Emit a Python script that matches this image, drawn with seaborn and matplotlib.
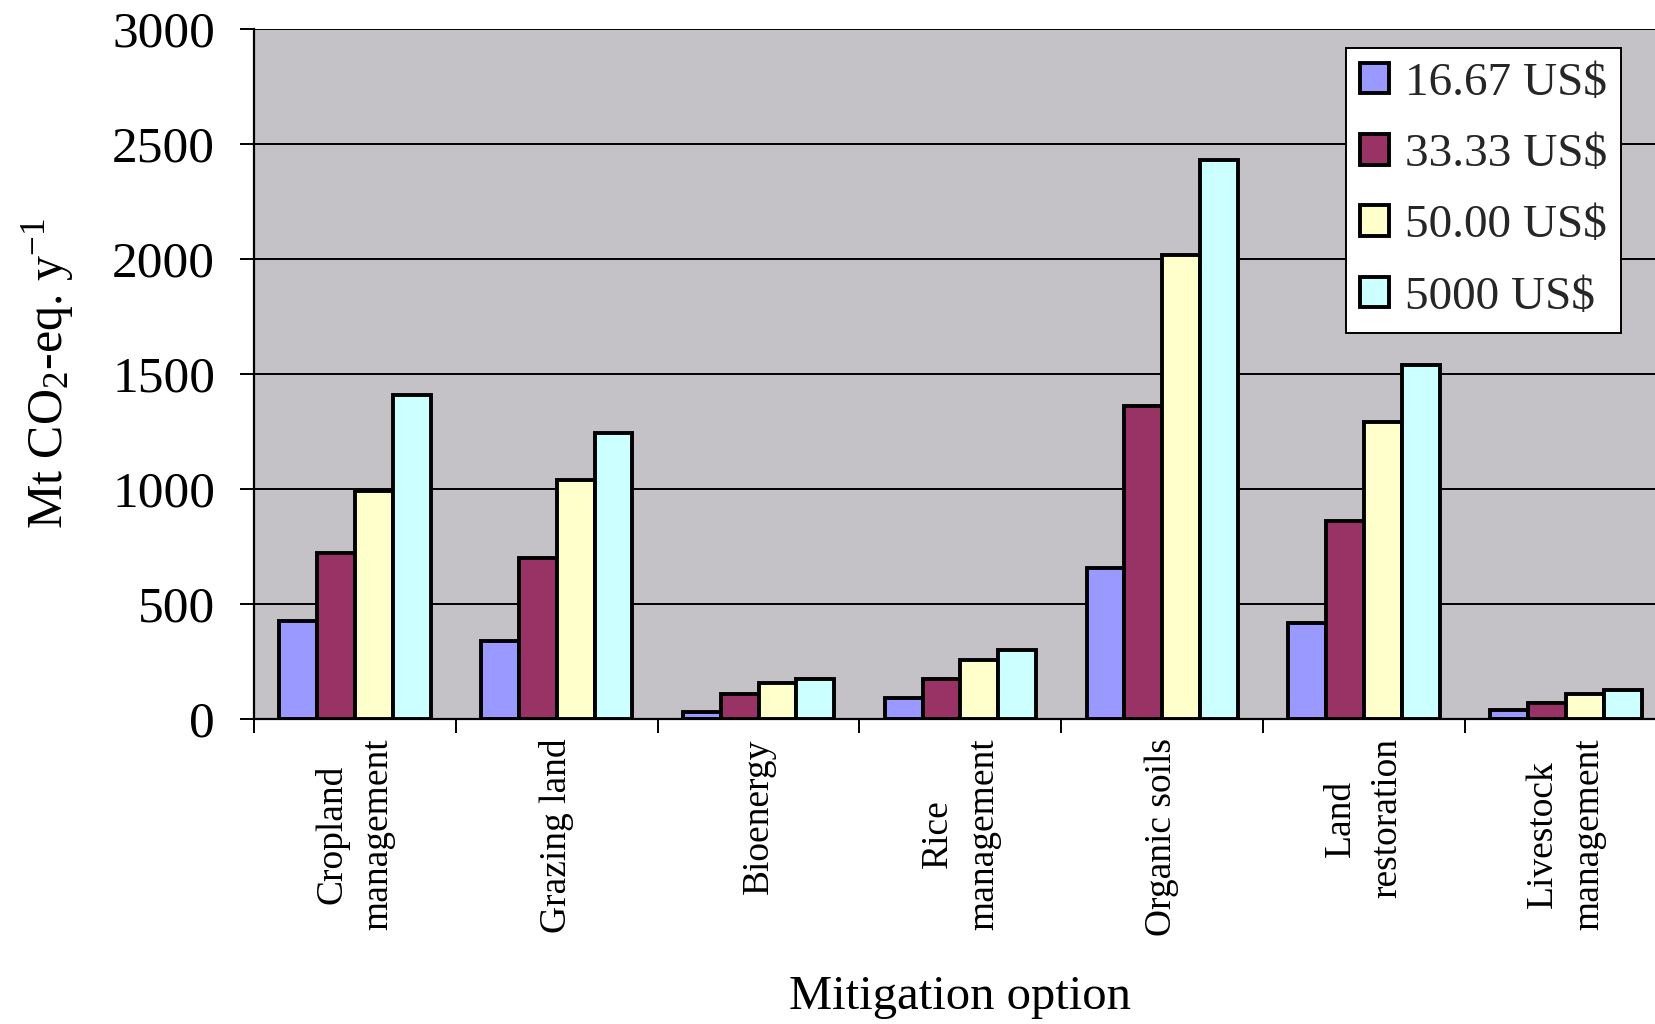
import matplotlib
matplotlib.use("Agg")
import matplotlib.pyplot as plt
import seaborn as sns
import pandas as pd
from matplotlib.ticker import FixedLocator

# Mitigation options and price levels
options = ["Cropland\nmanagement", "Grazing land", "Bioenergy", "Rice\nmanagement",
           "Organic soils", "Land\nrestoration", "Livestock\nmanagement"]
prices = ["16.67 US$", "33.33 US$", "50.00 US$", "5000 US$"]

# Economic mitigation potential (Mt CO2-eq. per year) at each carbon price
p_16_67 = [427, 339, 28, 92, 656, 417, 37]
p_33_33 = [720, 697, 110, 174, 1358, 862, 69]
p_50_00 = [991, 1037, 156, 257, 2018, 1289, 106]
p_5000 = [1408, 1243, 174, 298, 2427, 1537, 124]

colors = ["#9999FF", "#993366", "#FFFFCC", "#CCFFFF"]
y_ticks = [0, 500, 1000, 1500, 2000, 2500, 3000]

series = [p_16_67, p_33_33, p_50_00, p_5000]
df = pd.DataFrame({
    "option": [o for s in series for o in options],
    "price": [p for p, s in zip(prices, series) for _ in options],
    "value": [v for s in series for v in s],
})

sns.set_theme(style="white")
plt.rcParams["font.family"] = ["Liberation Serif", "DejaVu Serif"]
plt.rcParams["mathtext.fontset"] = "custom"
plt.rcParams["mathtext.rm"] = "Liberation Serif"
plt.rcParams["mathtext.it"] = "Liberation Serif:italic"

fig = plt.figure(figsize=(16.55, 10.24), dpi=100)
ax = fig.add_axes([0.1535, 0.298, 0.8536, 0.674])
ax.set_facecolor("#C4C2C6")

sns.barplot(data=df, x="option", y="value", hue="price", order=options,
            hue_order=prices, palette=colors, width=0.75, edgecolor="black",
            linewidth=2.8, saturation=1, ax=ax, zorder=3)

ax.set_xlim(-0.5, len(options) - 0.5)
ax.set_ylim(0, 3000)
ax.yaxis.set_major_locator(FixedLocator(y_ticks))
ax.yaxis.grid(True, color="black", linewidth=1.4)
ax.set_axisbelow(True)

for side in ["top", "right"]:
    ax.spines[side].set_visible(False)
for side in ["left", "bottom"]:
    ax.spines[side].set_color("black")
    ax.spines[side].set_linewidth(1.6)

ax.tick_params(axis="y", which="major", direction="out", length=10, width=1.4,
               color="black", labelsize=37, pad=18, left=True, labelcolor="black")
ax.tick_params(axis="x", which="major", length=0, labelsize=27, pad=14,
               labelcolor="black")
ax.xaxis.set_minor_locator(FixedLocator([i - 0.5 for i in range(len(options) + 1)]))
ax.tick_params(axis="x", which="minor", direction="out", length=10, width=1.4,
               color="black", bottom=True)

for lab in ax.get_xticklabels():
    lab.set_rotation(90)
    lab.set_va("top")
    lab.set_ha("center")
    lab.set_multialignment("center")
    lab.set_linespacing(1.45)

ax.set_xlabel("Mitigation option", fontsize=35, color="black", labelpad=28)
ax.set_ylabel("Mt CO$_2$-eq. y$^{-1}$", fontsize=36, color="black", labelpad=26)

leg = ax.legend(loc="upper left", bbox_to_anchor=(1346 / 1655, 1 - 48 / 1024),
                bbox_transform=fig.transFigure, fontsize=34, frameon=True,
                fancybox=False, edgecolor="black", framealpha=1,
                handlelength=0.62, handleheight=0.62, handletextpad=0.32,
                labelspacing=0.61, borderpad=0.3, borderaxespad=0)
leg.get_frame().set_linewidth(1.4)
leg.set_zorder(10)
for h in leg.legend_handles:
    h.set_edgecolor("black")
    h.set_linewidth(2.8)

fig.savefig("out.png", dpi=100)
